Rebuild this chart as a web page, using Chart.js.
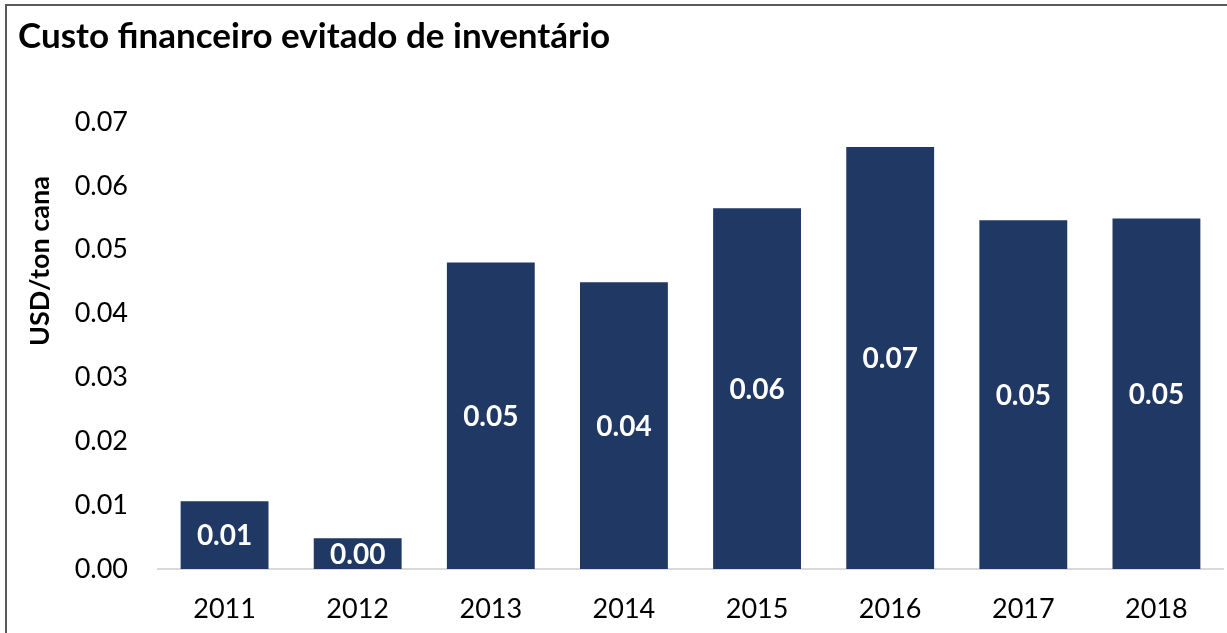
<!DOCTYPE html>
<html lang="pt">
<head>
    <meta charset="UTF-8">
    <title>Custo financeiro evitado de inventário</title>
    <style>
        body { margin: 0; background: #fff; }
        #wrap { position: relative; width: 1227px; height: 633px; }
        #frame { position: absolute; left: 5px; top: 4px; right: 0; bottom: 0;
                 border-top: 2px solid #595959; border-left: 2px solid #595959; }
        canvas { position: absolute; left: 0; top: 0; }
    </style>
</head>
<body>
    <div id="wrap">
        <div id="frame"></div>
        <canvas id="myChart" width="1227" height="633"></canvas>
    </div>
    <script src="https://cdn.jsdelivr.net/npm/chart.js"></script>
    <script>
        // dados
        const anos = ['2011', '2012', '2013', '2014', '2015', '2016', '2017', '2018'];
        const custo = [0.0106, 0.0048, 0.0480, 0.0449, 0.0565, 0.0661, 0.0546, 0.0549];
        const titulo = 'Custo financeiro evitado de inventário';
        const eixoY = 'USD/ton cana';

        const FONTE = 'Lato, "Noto Sans", sans-serif';
        const AZUL = '#203864';

        // rótulos brancos no meio das barras
        const rotulos = {
            id: 'rotulos',
            afterDatasetsDraw(chart) {
                const c = chart.ctx;
                const meta = chart.getDatasetMeta(0);
                c.save();
                c.fillStyle = '#fff';
                c.font = 'bold 28px ' + FONTE;
                c.textAlign = 'center';
                c.textBaseline = 'middle';
                meta.data.forEach(function (bar, i) {
                    c.fillText(custo[i].toFixed(2), bar.x, (bar.y + bar.base) / 2 + 1);
                });
                c.restore();
            }
        };

        // título do eixo y (fica mais acima do que o centro do eixo)
        const tituloY = {
            id: 'tituloY',
            afterDraw(chart) {
                const c = chart.ctx;
                const a = chart.chartArea;
                c.save();
                c.translate(a.left - 118, a.top + 139);
                c.rotate(-Math.PI / 2);
                c.fillStyle = '#000';
                c.font = 'bold 27px ' + FONTE;
                c.textAlign = 'center';
                c.textBaseline = 'middle';
                c.fillText(eixoY, 0, 0);
                c.restore();
            }
        };

        const ctx = document.querySelector('#myChart');
        const myChart = new Chart(ctx, {
            type: 'bar',
            data: {
                labels: anos,
                datasets: [{
                    data: custo,
                    backgroundColor: AZUL,
                    borderWidth: 0,
                    barPercentage: 0.66,
                    categoryPercentage: 1
                }]
            },
            options: {
                responsive: false,
                animation: false,
                layout: { padding: { left: 18, right: 4, top: 16, bottom: 0 } },
                plugins: {
                    legend: { display: false },
                    tooltip: { enabled: false },
                    title: {
                        display: true,
                        text: titulo,
                        align: 'start',
                        color: '#000',
                        font: { family: FONTE, size: 35, weight: 'bold' },
                        padding: { top: 0, bottom: 64 }
                    }
                },
                scales: {
                    x: {
                        grid: { display: false, drawTicks: false },
                        border: { display: true, color: '#d9d9d9', width: 2 },
                        afterFit: function (s) { s.height = 64; },
                        ticks: { color: '#000', padding: 24, font: { family: FONTE, size: 27 } }
                    },
                    y: {
                        min: 0,
                        max: 0.07,
                        grid: { display: false, drawTicks: false },
                        border: { display: false },
                        afterFit: function (s) { s.width = 140; },
                        ticks: {
                            stepSize: 0.01,
                            color: '#000',
                            padding: 30,
                            font: { family: FONTE, size: 27 },
                            callback: function (v) { return v.toFixed(2); }
                        }
                    }
                }
            },
            plugins: [rotulos, tituloY]
        });
    </script>
</body>
</html>
